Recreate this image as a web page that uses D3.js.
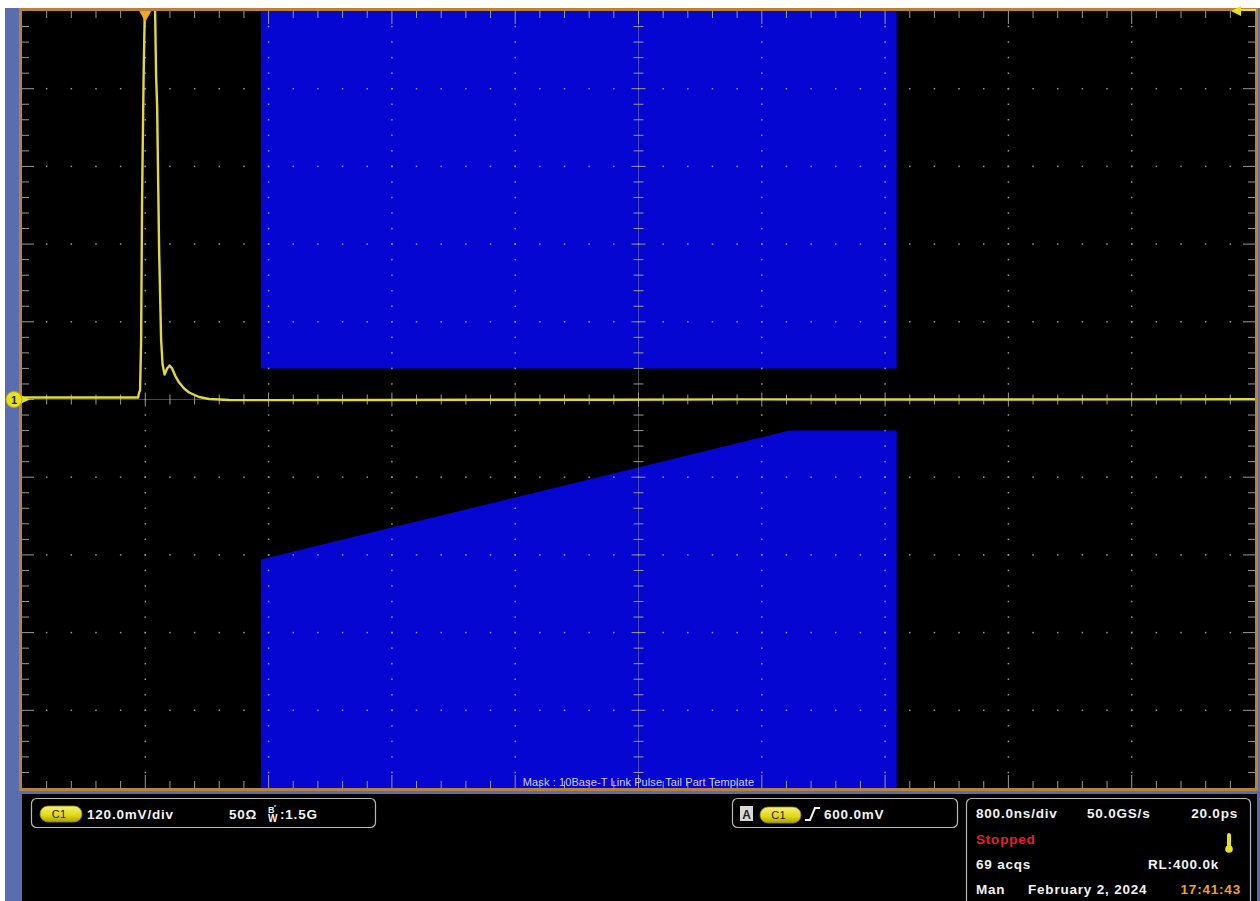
<!DOCTYPE html>
<html>
<head>
<meta charset="utf-8">
<script src="https://cdn.jsdelivr.net/npm/d3@7"></script>
<style>
  body { margin: 0; background: #ffffff; overflow: hidden; }
  svg { display: block; }
  text { font-family: "Liberation Sans", Arial, sans-serif; }
</style>
</head>
<body>
<svg id="scope" width="1260" height="901"></svg>
<script>
// ---- acquisition settings ----
const nsPerDiv = 800;
const mVPerDiv = 120;
const timeRange = [-800, 7200];      // ns, trigger at 0
const voltRange = [-600, 600];       // mV

// ---- captured channel 1 waveform (ns, mV) ----
const traceTimes = [-800, -600, -430, -250, -120, -47, -40, -34, -27, -21, -11, -4.5,
  10, 30, 50, 63.6, 70, 76.6, 89.6, 102.6, 112, 125, 141.6, 157.8, 174, 193.5, 219.5,
  252, 284, 349, 414, 544, 800, 1500, 2200, 3000, 3800, 4500, 5500, 6400, 7200];
const traceMillivolts = [3.1, 3.0, 3.1, 3.0, 3.1, 3.1, 10.8, 13.9, 92.5, 308, 499, 586,
  820, 900, 820, 600, 500, 455, 231, 92.5, 54, 38.6, 47.8, 52.4, 47.8, 37, 26.2,
  17, 10.8, 3.9, 0.8, -0.8, -1.0, -0.8, -0.5, -0.3, 0.2, 0.0, 0.0, 0.2, 0.3];

// ---- 10Base-T link pulse tail mask ----
const maskUpperTimes = [750, 4875];
const maskUpperFloor = [48, 48];
const maskLowerTimes = [750, 4180, 4875];
const maskLowerCeiling = [-247, -48, -48];

// ---- readout panel texts ----
const verticalReadout = ["120.0mV/div", "50Ω", ":1.5G"];
const triggerReadout = ["A", "C1", "600.0mV"];
const timebaseReadout = ["800.0ns/div", "50.0GS/s", "20.0ps"];
const statusReadout = ["Stopped", "69 acqs", "RL:400.0k"];
const dateReadout = ["Man", "February 2, 2024", "17:41:43"];
const maskLabel = "Mask : 10Base-T Link Pulse Tail Part Template";

// ---- layout ----
const W = 1260, H = 901;
const plot = { left: 22, right: 1255, top: 11, bottom: 788 };
const colors = {
  frame: "#b98238", strip: "#5a6ead", mask: "#0606d2", grid: "#9a9a9a",
  trace: "#e0d83c", text: "#f2f2f2", ch1: "#e8e21c"
};

const svg = d3.select("#scope");
const x = d3.scaleLinear().domain(timeRange).range([plot.left, plot.right]);
const y = d3.scaleLinear().domain(voltRange).range([plot.bottom, plot.top]);

// background bands
svg.append("rect").attr("x", 0).attr("y", 0).attr("width", W).attr("height", H).attr("fill", "#ffffff");
svg.append("rect").attr("x", 5).attr("y", 8).attr("width", W - 5).attr("height", H - 8).attr("fill", colors.strip);
svg.append("rect").attr("x", 22).attr("y", 794).attr("width", 1235).attr("height", H - 794).attr("fill", "#000");
svg.append("rect").attr("x", plot.left).attr("y", plot.top)
  .attr("width", plot.right - plot.left).attr("height", plot.bottom - plot.top).attr("fill", "#000");

const defs = svg.append("defs");
defs.append("clipPath").attr("id", "plotClip")
  .append("rect").attr("x", plot.left).attr("y", plot.top)
  .attr("width", plot.right - plot.left).attr("height", plot.bottom - plot.top);

const g = svg.append("g").attr("clip-path", "url(#plotClip)");

// mask regions
const upperPts = maskUpperTimes.map((t, i) => [x(t), y(maskUpperFloor[i])]);
upperPts.push([x(maskUpperTimes[maskUpperTimes.length - 1]), y(voltRange[1])]);
upperPts.push([x(maskUpperTimes[0]), y(voltRange[1])]);
g.append("path").attr("d", d3.line()(upperPts) + "Z").attr("fill", colors.mask);

const lowerPts = maskLowerTimes.map((t, i) => [x(t), y(maskLowerCeiling[i])]);
lowerPts.push([x(maskLowerTimes[maskLowerTimes.length - 1]), y(voltRange[0])]);
lowerPts.push([x(maskLowerTimes[0]), y(voltRange[0])]);
g.append("path").attr("d", d3.line()(lowerPts) + "Z").attr("fill", colors.mask);

// graticule
const majorT = d3.range(timeRange[0], timeRange[1] + 1, nsPerDiv);
const majorV = d3.range(voltRange[0], voltRange[1] + 1, mVPerDiv);
const minorT = d3.range(timeRange[0], timeRange[1] + 1, nsPerDiv / 5);
const minorV = d3.range(voltRange[0], voltRange[1] + 1, mVPerDiv / 5);
const centerT = (timeRange[0] + timeRange[1]) / 2;
const centerV = 0;
const grid = g.append("g").attr("fill", colors.grid).attr("stroke", colors.grid);

// dotted major lines
majorT.slice(1, -1).filter(t => t !== centerT).forEach(t => {
  minorV.slice(1, -1).forEach(v => {
    grid.append("rect").attr("x", x(t) - 0.75).attr("y", y(v) - 0.75)
      .attr("width", 1.5).attr("height", 1.5).attr("stroke", "none");
  });
});
majorV.slice(1, -1).filter(v => v !== centerV).forEach(v => {
  minorT.slice(1, -1).forEach(t => {
    grid.append("rect").attr("x", x(t) - 0.75).attr("y", y(v) - 0.75)
      .attr("width", 1.5).attr("height", 1.5).attr("stroke", "none");
  });
});

// center crosshair with tick marks
grid.append("line").attr("x1", x(centerT)).attr("x2", x(centerT))
  .attr("y1", plot.top).attr("y2", plot.bottom).attr("stroke-width", 1).attr("stroke-opacity", 0.45);
grid.append("line").attr("x1", plot.left).attr("x2", plot.right)
  .attr("y1", y(centerV)).attr("y2", y(centerV)).attr("stroke-width", 1).attr("stroke-opacity", 0.45);
minorT.slice(1, -1).forEach((t, i) => {
  const len = (i + 1) % 5 === 0 ? 7 : 5;
  grid.append("line").attr("x1", x(t)).attr("x2", x(t))
    .attr("y1", y(centerV) - len).attr("y2", y(centerV) + len).attr("stroke-width", 1);
});
minorV.slice(1, -1).forEach((v, i) => {
  const len = (i + 1) % 5 === 0 ? 7 : 5;
  grid.append("line").attr("x1", x(centerT) - len).attr("x2", x(centerT) + len)
    .attr("y1", y(v)).attr("y2", y(v)).attr("stroke-width", 1);
});

// edge ticks
minorT.slice(1, -1).forEach((t, i) => {
  const len = (i + 1) % 5 === 0 ? 13 : 7;
  grid.append("line").attr("x1", x(t)).attr("x2", x(t)).attr("y1", plot.top).attr("y2", plot.top + len);
  grid.append("line").attr("x1", x(t)).attr("x2", x(t)).attr("y1", plot.bottom).attr("y2", plot.bottom - len);
});
minorV.slice(1, -1).forEach((v, i) => {
  const len = (i + 1) % 5 === 0 ? 12 : 7;
  grid.append("line").attr("x1", plot.left).attr("x2", plot.left + len).attr("y1", y(v)).attr("y2", y(v));
  grid.append("line").attr("x1", plot.right).attr("x2", plot.right - len).attr("y1", y(v)).attr("y2", y(v));
});

// waveform
const traceData = traceTimes.map((t, i) => [t, traceMillivolts[i]]);
g.append("path").datum(traceData)
  .attr("d", d3.line().x(d => x(d[0])).y(d => y(d[1])))
  .attr("fill", "none").attr("stroke", colors.trace).attr("stroke-width", 2.4)
  .attr("stroke-linejoin", "round");

// mask caption
svg.append("text").attr("x", x(centerT)).attr("y", 786).attr("text-anchor", "middle")
  .attr("font-size", 11).attr("letter-spacing", 0.1).attr("fill", "#cdd0e4").text(maskLabel);

// frame
svg.append("rect").attr("x", 20.5).attr("y", 9.5).attr("width", 1236).attr("height", 780)
  .attr("fill", "none").attr("stroke", colors.frame).attr("stroke-width", 3);

// trigger position marker
const tx = x(0);
svg.append("path").attr("d", `M${tx - 6},${plot.top} L${tx + 6},${plot.top} L${tx},${plot.top + 11}Z`)
  .attr("fill", "#f5a623");
// trigger level marker (at top edge)
const ty = y(600);
svg.append("line").attr("x1", 1236).attr("x2", 1256).attr("y1", ty - 1).attr("y2", ty - 1)
  .attr("stroke", colors.ch1).attr("stroke-width", 2);
svg.append("path").attr("d", `M1231,${ty} L1241,${ty - 5} L1241,${ty + 5}Z`).attr("fill", colors.ch1);

// channel 1 ground marker
const gy = y(0);
svg.append("path").attr("d", `M21,${gy - 4} L30,${gy} L21,${gy + 4}Z`).attr("fill", colors.ch1);
svg.append("circle").attr("cx", 14).attr("cy", gy).attr("r", 8).attr("fill", colors.ch1)
  .attr("stroke", "#b8a810").attr("stroke-width", 1);
svg.append("text").attr("x", 14).attr("y", gy + 4).attr("text-anchor", "middle")
  .attr("font-size", 11).attr("font-weight", "bold").attr("fill", "#222").text("1");

// ---- readout panels ----
const panel = svg.append("g").attr("font-weight", "bold").attr("font-size", 13.5)
  .attr("letter-spacing", 0.8).attr("fill", colors.text);

const lg = defs.append("linearGradient").attr("id", "pillGrad")
  .attr("x1", 0).attr("y1", 0).attr("x2", 0).attr("y2", 1);
lg.append("stop").attr("offset", "0%").attr("stop-color", "#f6f07a");
lg.append("stop").attr("offset", "60%").attr("stop-color", "#e0d810");
lg.append("stop").attr("offset", "100%").attr("stop-color", "#a89e08");

function pill(px, py, w, h, label) {
  panel.append("rect").attr("x", px).attr("y", py).attr("width", w).attr("height", h)
    .attr("rx", h / 2).attr("fill", "url(#pillGrad)").attr("stroke", "#8a8410").attr("stroke-width", 0.8);
  panel.append("text").attr("x", px + w / 2 - 2).attr("y", py + h / 2 + 4).attr("text-anchor", "middle")
    .attr("font-size", 11).attr("font-weight", "normal").attr("letter-spacing", 0.3)
    .attr("fill", "#1a1a1a").text(label);
}

// vertical readout
panel.append("rect").attr("x", 31.5).attr("y", 798.5).attr("width", 344).attr("height", 29)
  .attr("rx", 5).attr("fill", "none").attr("stroke", "#b8b8b8").attr("stroke-width", 1.2);
pill(40, 806, 42, 16, "C1");
panel.append("text").attr("x", 87).attr("y", 819).text(verticalReadout[0]);
panel.append("text").attr("x", 229).attr("y", 819).text(verticalReadout[1]);
panel.append("text").attr("x", 268).attr("y", 813).attr("font-size", 9).attr("letter-spacing", 0).text("B");
panel.append("text").attr("x", 274).attr("y", 810).attr("font-size", 8).attr("letter-spacing", 0).text("′");
panel.append("text").attr("x", 268).attr("y", 822).attr("font-size", 10).attr("letter-spacing", 0).text("W");
panel.append("text").attr("x", 280).attr("y", 819).text(verticalReadout[2]);

// trigger readout
panel.append("rect").attr("x", 732.5).attr("y", 798.5).attr("width", 225).attr("height", 29)
  .attr("rx", 5).attr("fill", "none").attr("stroke", "#b8b8b8").attr("stroke-width", 1.2);
panel.append("rect").attr("x", 740).attr("y", 806).attr("width", 13).attr("height", 15).attr("fill", "#d8d8d8");
panel.append("text").attr("x", 746.5).attr("y", 818.5).attr("text-anchor", "middle").attr("letter-spacing", 0)
  .attr("font-size", 12).attr("fill", "#222").text(triggerReadout[0]);
pill(760, 807, 41, 16, triggerReadout[1]);
panel.append("path").attr("d", "M805,820 L810,820 L815,808 L820,808")
  .attr("fill", "none").attr("stroke", colors.text).attr("stroke-width", 2);
panel.append("text").attr("x", 824).attr("y", 819).text(triggerReadout[2]);

// timebase / acquisition readout
panel.append("rect").attr("x", 966.5).attr("y", 798.5).attr("width", 284).attr("height", 110)
  .attr("rx", 5).attr("fill", "none").attr("stroke", "#b8b8b8").attr("stroke-width", 1.2);
panel.append("text").attr("x", 976).attr("y", 818).text(timebaseReadout[0]);
panel.append("text").attr("x", 1087).attr("y", 818).text(timebaseReadout[1]);
panel.append("text").attr("x", 1238).attr("y", 818).attr("text-anchor", "end").text(timebaseReadout[2]);
panel.append("text").attr("x", 976).attr("y", 844).attr("fill", "#e52222").text(statusReadout[0]);
panel.append("rect").attr("x", 1227).attr("y", 833).attr("width", 4).attr("height", 14).attr("rx", 2)
  .attr("fill", colors.ch1);
panel.append("circle").attr("cx", 1229).attr("cy", 849).attr("r", 3.8).attr("fill", colors.ch1);
panel.append("text").attr("x", 976).attr("y", 869).text(statusReadout[1]);
panel.append("text").attr("x", 1219).attr("y", 869).attr("text-anchor", "end").text(statusReadout[2]);
panel.append("text").attr("x", 976).attr("y", 894).text(dateReadout[0]);
panel.append("text").attr("x", 1028).attr("y", 894).text(dateReadout[1]);
panel.append("text").attr("x", 1241).attr("y", 894).attr("text-anchor", "end")
  .attr("fill", "#f0a02c").text(dateReadout[2]);
</script>
</body>
</html>
